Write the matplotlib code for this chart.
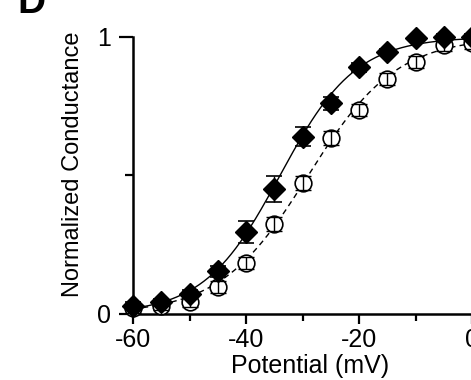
"""Normalized conductance vs potential (panel D), with Boltzmann fits."""

import matplotlib

matplotlib.use("Agg")
import matplotlib.pyplot as plt  # noqa: E402
import numpy as np  # noqa: E402

# data
potential = [-60, -55, -50, -45, -40, -35, -30, -25, -20, -15, -10, -5, 0]
g_filled = [0.03, 0.043, 0.072, 0.155, 0.296, 0.451, 0.64, 0.76, 0.89, 0.946, 0.995, 1.0, 1.0]
g_filled_err = [0.012, 0.012, 0.015, 0.02, 0.04, 0.047, 0.035, 0.025, 0.015, 0.012, 0.01, 0.01, 0.01]
g_open = [0.02, 0.03, 0.043, 0.097, 0.184, 0.325, 0.473, 0.635, 0.736, 0.848, 0.91, 0.97, 0.98]
g_open_err = [0.015, 0.015, 0.018, 0.022, 0.022, 0.025, 0.025, 0.025, 0.022, 0.022, 0.022, 0.022, 0.022]

# Boltzmann fit parameters (V1/2, slope factor k)
fit_filled = (-34.0, 6.7)
fit_open = (-29.0, 7.8)

xticks = [-60, -40, -20, 0]
xminor = [-50, -30, -10]
yticks = [0, 1]
yminor = [0.5]


def boltzmann(v, vhalf, k):
    return 1.0 / (1.0 + np.exp((vhalf - v) / k))


def main() -> None:
    plt.rcParams["font.family"] = ["Liberation Sans", "DejaVu Sans"]
    fig = plt.figure(figsize=(4.71, 3.8), dpi=100)
    ax = fig.add_axes([0.2824, 0.1737, 0.744, 0.729])

    v = np.linspace(-60, 0.5, 300)
    ax.plot(v, boltzmann(v, *fit_filled), color="black", lw=1.0, zorder=2, clip_on=False)
    ax.plot(v, boltzmann(v, *fit_open), color="black", lw=1.0, ls=(0, (4, 3)), zorder=2, clip_on=False)

    # open circles, error bars drawn over the marker
    ax.plot(potential, g_open, "o", ms=12, mfc="white", mec="black", mew=1.2, zorder=3, clip_on=False)
    ax.errorbar(potential, g_open, yerr=g_open_err, fmt="none", ecolor="black",
                elinewidth=1.0, capsize=5.5, capthick=1.0, zorder=4, clip_on=False)

    # filled diamonds
    ax.errorbar(potential, g_filled, yerr=g_filled_err, fmt="none", ecolor="black",
                elinewidth=1.0, capsize=6, capthick=1.2, zorder=5, clip_on=False)
    ax.plot(potential, g_filled, "D", ms=11, color="black", zorder=6, clip_on=False)

    ax.set_xlim(-60, 2)
    ax.set_ylim(0, 1)
    for side in ("top", "right"):
        ax.spines[side].set_visible(False)
    for side in ("left", "bottom"):
        ax.spines[side].set_linewidth(1.8)

    ax.set_xticks(xticks)
    ax.set_xticks(xminor, minor=True)
    ax.set_xticklabels([str(t) for t in xticks])
    ax.set_yticks(yticks)
    ax.set_yticks(yminor, minor=True)
    ax.set_yticklabels([str(t) for t in yticks])
    ax.tick_params(which="major", axis="y", length=10, width=1.6, labelsize=18, pad=6)
    ax.tick_params(which="minor", axis="y", length=6, width=1.6)
    ax.tick_params(which="major", axis="x", length=7, width=1.6, labelsize=18, pad=3)
    ax.tick_params(which="minor", axis="x", length=5, width=1.6)

    fig.text(310 / 471, 1 - 366 / 380, "Potential (mV)", fontsize=18, ha="center", va="center")
    fig.text(73 / 471, 1 - 164 / 380, "Normalized Conductance", fontsize=17,
             rotation=90, ha="center", va="center")
    fig.text(17 / 471, 1 - 13 / 380, "D", fontsize=28, fontweight="bold", ha="left", va="baseline")

    fig.savefig("out.png", dpi=100)


if __name__ == "__main__":
    main()
